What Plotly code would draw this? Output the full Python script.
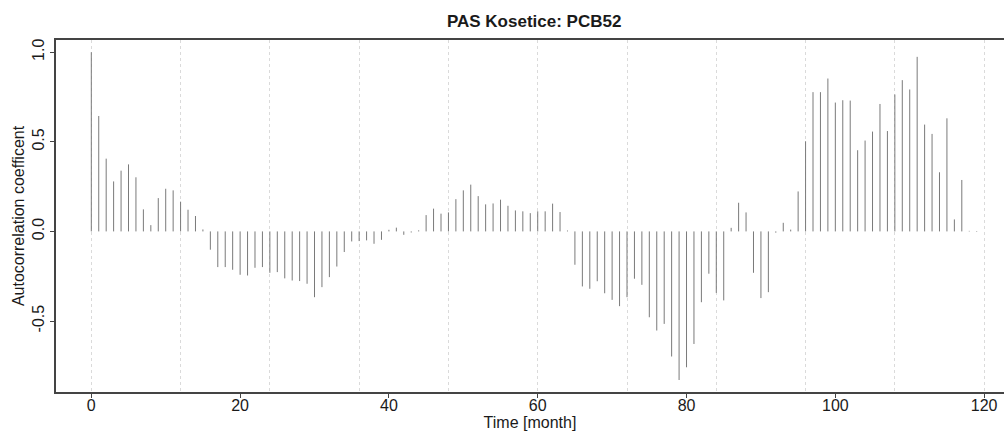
import plotly.graph_objects as go

lags = list(range(0, 120))
acf = [
    1.000, 0.644, 0.406, 0.279, 0.339, 0.374, 0.302, 0.123, 0.035, 0.186,
    0.238, 0.229, 0.166, 0.121, 0.086, 0.011, -0.102, -0.199, -0.199, -0.214,
    -0.242, -0.246, -0.203, -0.199, -0.231, -0.227, -0.262, -0.274, -0.277, -0.292,
    -0.367, -0.311, -0.255, -0.196, -0.115, -0.056, -0.054, -0.050, -0.069, -0.047,
    0.009, 0.021, -0.019, -0.006, 0.006, 0.091, 0.127, 0.099, 0.106, 0.180,
    0.229, 0.261, 0.197, 0.151, 0.156, 0.177, 0.143, 0.117, 0.112, 0.102,
    0.112, 0.112, 0.155, 0.108, 0.005, -0.186, -0.307, -0.320, -0.278, -0.345,
    -0.382, -0.417, -0.367, -0.264, -0.298, -0.479, -0.553, -0.516, -0.698, -0.829,
    -0.758, -0.628, -0.395, -0.236, -0.343, -0.385, 0.020, 0.160, 0.106, -0.231,
    -0.372, -0.339, -0.007, 0.048, 0.010, 0.223, 0.503, 0.777, 0.777, 0.853,
    0.719, 0.732, 0.730, 0.453, 0.507, 0.557, 0.711, 0.560, 0.764, 0.844,
    0.792, 0.974, 0.596, 0.544, 0.330, 0.631, 0.067, 0.287, 0.003, -0.003,
]

x_tick_vals = [0, 20, 40, 60, 80, 100, 120]
x_grid_step = 12
y_tick_vals = [-0.5, 0.0, 0.5, 1.0]
y_tick_text = ["-0.5", "0.0", "0.5", "1.0"]

title_text = "PAS Kosetice: PCB52"
x_title = "Time [month]"
y_title = "Autocorrelation coefficent"

# vertical spikes built from the data
xs, ys = [], []
for l, v in zip(lags, acf):
    xs += [l, l, None]
    ys += [0, v, None]

FONT = "Liberation Sans, Arial, sans-serif"
XRANGE = [-4.745, 122.67]
YRANGE = [-0.896, 1.068]

fig = go.Figure()
fig.add_trace(go.Scatter(x=xs, y=ys, mode="lines",
                         line=dict(color="#7a7a7a", width=1),
                         hoverinfo="skip", showlegend=False))
# invisible helper trace so the grid axis is drawn
fig.add_trace(go.Scatter(x=[lags[0]], y=[acf[0]], xaxis="x2", mode="markers",
                         marker=dict(opacity=0), hoverinfo="skip", showlegend=False))

fig.update_layout(
    width=1004, height=434,
    margin=dict(l=56, r=0, t=40, b=42, autoexpand=False),
    paper_bgcolor="white", plot_bgcolor="white",
    font=dict(family=FONT, size=16, color="#1a1a1a"),
    title=dict(text="<b>" + title_text + "</b>", x=0.532, xref="container", xanchor="center",
               y=1 - 21 / 434, yref="container", yanchor="middle",
               font=dict(family=FONT, size=17, color="#1a1a1a")),
    xaxis=dict(range=XRANGE, tickvals=x_tick_vals, ticks="outside", ticklen=4,
               tickcolor="#444", showgrid=False, zeroline=False,
               showline=True, linecolor="#444", linewidth=1.5, mirror=True,
               ticklabelstandoff=-6,
               title=dict(text=x_title, standoff=3, font=dict(size=16)),
               tickfont=dict(size=16), automargin=False),
    xaxis2=dict(range=XRANGE, overlaying="x", side="bottom", dtick=x_grid_step, tick0=0,
                showgrid=True, gridcolor="#dadada", griddash="3px,3px", gridwidth=1,
                showticklabels=False, ticks="", zeroline=False, showline=False),
    yaxis=dict(range=YRANGE, tickvals=y_tick_vals, ticktext=y_tick_text,
               ticks="outside", ticklen=4, tickcolor="#444", tickangle=-90,
               showgrid=False, zeroline=False, showline=True, linecolor="#444",
               linewidth=1.5, mirror=False,
               title=dict(text=y_title, standoff=1, font=dict(size=16)),
               tickfont=dict(size=16), automargin=False),
)

fig.write_html("out.html")
